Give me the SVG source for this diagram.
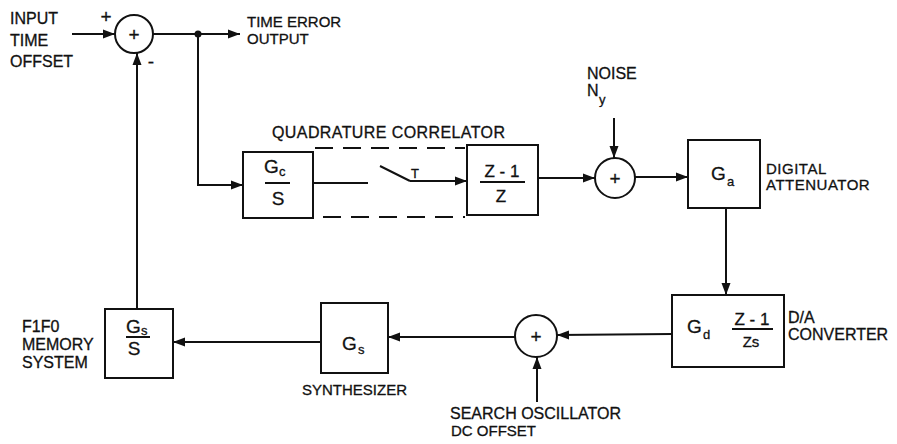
<svg xmlns="http://www.w3.org/2000/svg" width="897" height="444" viewBox="0 0 897 444">
<defs>
<marker id="ah" markerUnits="userSpaceOnUse" markerWidth="14" markerHeight="10" refX="12" refY="5" orient="auto">
<path d="M0,0.5 L12,5 L0,9.5 Z" fill="#111"/>
</marker>
<style>
.ln{fill:none;stroke:#111;stroke-width:2;}
.arr{fill:none;stroke:#111;stroke-width:2;marker-end:url(#ah);}
.box{fill:#fff;stroke:#111;stroke-width:2;}
.dash{fill:none;stroke:#111;stroke-width:2;stroke-dasharray:18 10;}
.lbl{font-family:"Liberation Sans",Arial,sans-serif;font-size:16px;fill:#111;stroke:#111;stroke-width:0.3;}
.l15{font-family:"Liberation Sans",Arial,sans-serif;font-size:15px;fill:#111;stroke:#111;stroke-width:0.3;}
.big{font-family:"Liberation Sans",Arial,sans-serif;font-size:19px;fill:#111;stroke:#111;stroke-width:0.3;}
.mid{font-family:"Liberation Sans",Arial,sans-serif;font-size:17px;fill:#111;stroke:#111;stroke-width:0.3;}
.sub{font-family:"Liberation Sans",Arial,sans-serif;font-size:13px;fill:#111;stroke:#111;stroke-width:0.3;}
.c{text-anchor:middle;}
</style>
</defs>
<rect width="897" height="444" fill="#fff"/>

<g id="connectors">
<line class="arr" x1="72" y1="34" x2="115" y2="34"/>
<line class="arr" x1="153" y1="34" x2="240" y2="34"/>
<circle cx="198" cy="34" r="3.5" fill="#111"/>
<polyline class="arr" points="198,34 198,185 243,185"/>
<line class="ln" x1="313" y1="183" x2="368" y2="183"/>
<line class="ln" x1="380" y1="166" x2="410" y2="181"/>
<line class="arr" x1="410" y1="181" x2="467" y2="181"/>
<line class="dash" x1="315" y1="148" x2="465" y2="148"/>
<line class="dash" x1="323" y1="217" x2="465" y2="217"/>
<line class="arr" x1="538" y1="178" x2="595" y2="178"/>
<line class="arr" x1="614" y1="118" x2="614" y2="158"/>
<line class="arr" x1="635" y1="177" x2="688" y2="177"/>
<line class="arr" x1="726" y1="208" x2="726" y2="295"/>
<line class="arr" x1="672" y1="334" x2="557" y2="335"/>
<line class="arr" x1="537" y1="402" x2="537" y2="357"/>
<line class="arr" x1="515" y1="337" x2="388" y2="337"/>
<line class="arr" x1="321" y1="342" x2="173" y2="342"/>
<line class="arr" x1="137" y1="309" x2="137" y2="53"/>
</g>

<g id="input-label">
<text class="lbl" x="10" y="24">INPUT</text>
<text class="lbl" x="10" y="46">TIME</text>
<text class="lbl" x="10" y="67">OFFSET</text>
</g>

<g id="sum1">
<circle class="box" cx="134" cy="34" r="19"/>
<text class="big c" x="134" y="41">+</text>
<text class="big c" x="106" y="23">+</text>
<text class="big c" x="151" y="68">-</text>
</g>

<g id="output-label">
<text class="l15" x="247" y="27">TIME ERROR</text>
<text class="l15" x="247" y="44">OUTPUT</text>
</g>

<g id="quad-label">
<text class="lbl" x="272" y="138" textLength="233">QUADRATURE CORRELATOR</text>
</g>

<g id="gc">
<rect class="box" x="243" y="152" width="70" height="66"/>
<text class="big" x="264" y="173">G</text>
<text class="sub" x="279" y="176">c</text>
<line class="ln" x1="265" y1="183" x2="290" y2="183"/>
<text class="big c" x="278" y="205">S</text>
</g>

<g id="switch">
<text class="sub c" x="415" y="178">T</text>
</g>

<g id="zbox">
<rect class="box" x="467" y="145" width="71" height="70"/>
<text class="mid c" x="502" y="177">Z - 1</text>
<line class="ln" x1="480" y1="182" x2="525" y2="182"/>
<text class="mid c" x="501" y="202">Z</text>
</g>

<g id="noise">
<text class="lbl" x="587" y="79">NOISE</text>
<text class="lbl" x="587" y="96">N</text>
<text class="sub" x="599" y="104">y</text>
</g>

<g id="sum2">
<circle class="box" cx="615" cy="178" r="20"/>
<text class="big c" x="615" y="185">+</text>
</g>

<g id="ga">
<rect class="box" x="688" y="140" width="72" height="68"/>
<text class="big" x="711" y="180">G</text>
<text class="sub" x="727" y="186">a</text>
<text class="l15" x="766" y="174" letter-spacing="0.5">DIGITAL</text>
<text class="l15" x="766" y="190" letter-spacing="0.5">ATTENUATOR</text>
</g>

<g id="da">
<rect class="box" x="672" y="295" width="112" height="72"/>
<text class="big" x="687" y="333">G</text>
<text class="sub" x="703" y="339">d</text>
<text class="mid c" x="752" y="325">Z - 1</text>
<line class="ln" x1="732" y1="329" x2="773" y2="329"/>
<text class="l15 c" x="751" y="347">Zs</text>
<text class="lbl" x="788" y="323">D/A</text>
<text class="lbl" x="788" y="340">CONVERTER</text>
</g>

<g id="sum3">
<circle class="box" cx="536" cy="336" r="21"/>
<text class="big c" x="536" y="343">+</text>
<text class="lbl" x="450" y="419">SEARCH OSCILLATOR</text>
<text class="l15" x="451" y="436">DC OFFSET</text>
</g>

<g id="gs">
<rect class="box" x="321" y="303" width="67" height="70"/>
<text class="big" x="342" y="350">G</text>
<text class="sub" x="358" y="354">s</text>
<text class="l15" x="302" y="395">SYNTHESIZER</text>
</g>

<g id="fifo">
<rect class="box" x="105" y="309" width="68" height="69"/>
<text class="big" x="126" y="333">G</text>
<text class="sub" x="141" y="335">s</text>
<line class="ln" x1="126" y1="337" x2="150" y2="337"/>
<text class="big c" x="134" y="355">S</text>
<text class="lbl" x="22" y="332">F1F0</text>
<text class="lbl" x="22" y="350">MEMORY</text>
<text class="lbl" x="22" y="368">SYSTEM</text>
</g>
</svg>
